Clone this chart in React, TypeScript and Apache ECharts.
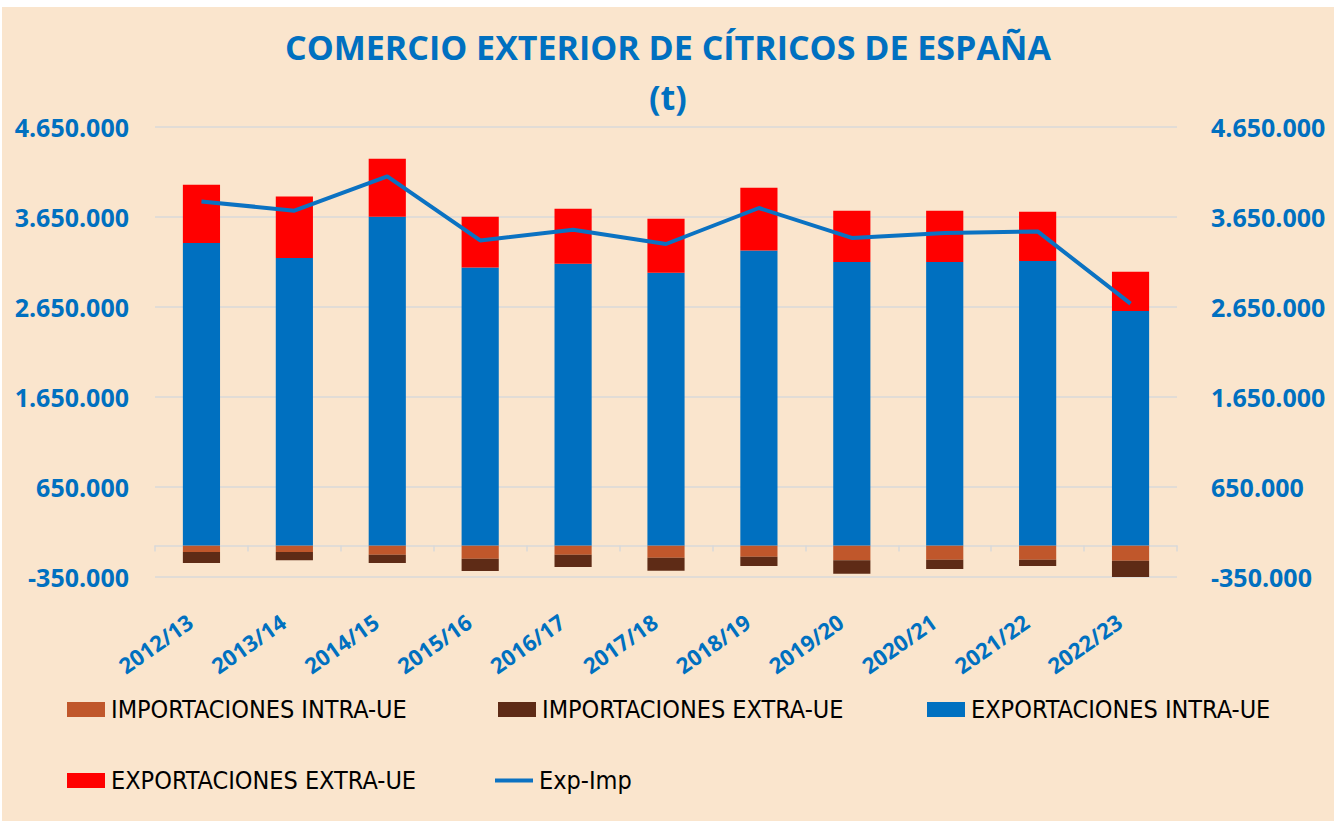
import React, { useEffect, useRef } from "react";
import * as echarts from "echarts";

const categories = ["2012/13", "2013/14", "2014/15", "2015/16", "2016/17", "2017/18", "2018/19", "2019/20", "2020/21", "2021/22", "2022/23"];
const importacionesIntraUE = [-72000, -72000, -102000, -147000, -102000, -136000, -124000, -165000, -158000, -158000, -169000];
const importacionesExtraUE = [-122000, -93000, -92000, -137000, -137000, -144000, -103000, -148000, -103000, -70000, -189000];
const exportacionesIntraUE = [3361000, 3194000, 3653000, 3090000, 3131000, 3031000, 3279000, 3150000, 3150000, 3161000, 2606000];
const exportacionesExtraUE = [648000, 684000, 644000, 563000, 611000, 600000, 697000, 570000, 570000, 548000, 437000];
const expImp = [3823000, 3720000, 4101000, 3390000, 3509000, 3350000, 3750000, 3417000, 3472000, 3490000, 2687000];

const yMin = -350000;
const yMax = 4650000;
const yInterval = 1000000;

const BLUE = "#0070C0";
const NARROW = "'Liberation Sans Narrow', 'Arial Narrow', 'DejaVu Sans Condensed', sans-serif";
const BOLD = "'Open Sans', 'Noto Sans', sans-serif";

function fmt(v: number): string {
  const s = String(Math.abs(Math.round(v))).replace(/\B(?=(\d{3})+(?!\d))/g, ".");
  return (v < 0 ? "-" : "") + s;
}

function legendAt(name: string, left: number, top: number, line = false) {
  return {
    data: [name],
    left,
    top,
    orient: "horizontal",
    selectedMode: false,
    icon: "rect",
    itemWidth: 38,
    itemHeight: line ? 4 : 15,
    itemGap: 5,
    textStyle: { fontFamily: NARROW, fontSize: 25, color: "#000000", padding: [0, 0, 0, 1] },
  };
}

export default function App() {
  const ref = useRef<HTMLDivElement>(null);
  useEffect(() => {
    if (!ref.current) return;
    const chart = echarts.init(ref.current, null, { renderer: "svg" });
    const axisLabelY = {
      color: BLUE,
      fontFamily: BOLD,
      fontWeight: "bold",
      fontSize: 25,
      formatter: (v: number) => fmt(v),
    };
    chart.setOption({
      animation: false,
      backgroundColor: "#FAE5CD",
      title: [
        {
          text: "COMERCIO EXTERIOR DE CÍTRICOS DE ESPAÑA",
          left: "center",
          top: 18,
          textStyle: { color: BLUE, fontFamily: BOLD, fontWeight: "bold", fontSize: 34 },
        },
        {
          text: "(t)",
          left: "center",
          top: 68,
          textStyle: { color: BLUE, fontFamily: BOLD, fontWeight: "bold", fontSize: 34 },
        },
      ],
      legend: [
        legendAt("IMPORTACIONES INTRA-UE", 60, 685),
        legendAt("IMPORTACIONES EXTRA-UE", 491, 685),
        legendAt("EXPORTACIONES INTRA-UE", 920, 685),
        legendAt("EXPORTACIONES EXTRA-UE", 60, 756),
        legendAt("Exp-Imp", 488, 756, true),
      ],
      grid: { left: 153, right: 157, top: 120, bottom: 244, containLabel: false },
      xAxis: [
        {
          type: "category",
          data: categories,
          position: "bottom",
          axisLine: { show: false, onZero: false },
          axisTick: { show: false },
          axisLabel: {
            rotate: 35,
            margin: 34,
            color: BLUE,
            fontFamily: BOLD,
            fontWeight: "bold",
            fontSize: 22,
            interval: 0,
            padding: [0, 14, 0, 0],
          },
        },
        {
          type: "category",
          data: categories,
          position: "bottom",
          axisLine: { show: true, onZero: true, lineStyle: { color: "#D9D9D9", width: 1.5 } },
          axisTick: { show: true, length: 6, lineStyle: { color: "#D9D9D9", width: 1.5 } },
          axisLabel: { show: false },
        },
      ],
      yAxis: [
        {
          type: "value",
          min: yMin,
          max: yMax,
          interval: yInterval,
          position: "left",
          axisLine: { show: false },
          axisTick: { show: false },
          splitLine: { show: true, lineStyle: { color: "#D9D9D9", width: 1.5 } },
          axisLabel: { ...axisLabelY, margin: 26 },
        },
        {
          type: "value",
          min: yMin,
          max: yMax,
          interval: yInterval,
          position: "right",
          axisLine: { show: false },
          axisTick: { show: false },
          splitLine: { show: false },
          axisLabel: { ...axisLabelY, margin: 34 },
        },
      ],
      series: [
        {
          name: "IMPORTACIONES INTRA-UE",
          type: "bar",
          stack: "total",
          data: importacionesIntraUE,
          barCategoryGap: "60%",
          itemStyle: { color: "#C0572B" },
        },
        {
          name: "IMPORTACIONES EXTRA-UE",
          type: "bar",
          stack: "total",
          data: importacionesExtraUE,
          barCategoryGap: "60%",
          itemStyle: { color: "#5E2B16" },
        },
        {
          name: "EXPORTACIONES INTRA-UE",
          type: "bar",
          stack: "total",
          data: exportacionesIntraUE,
          barCategoryGap: "60%",
          itemStyle: { color: BLUE },
        },
        {
          name: "EXPORTACIONES EXTRA-UE",
          type: "bar",
          stack: "total",
          data: exportacionesExtraUE,
          barCategoryGap: "60%",
          itemStyle: { color: "#FF0000" },
        },
        {
          name: "Exp-Imp",
          type: "line",
          data: expImp,
          symbol: "none",
          z: 5,
          lineStyle: { color: "#0B72C2", width: 4 },
          itemStyle: { color: "#0B72C2" },
        },
      ],
    });
    return () => chart.dispose();
  }, []);
  return (
    <div style={{ position: "fixed", left: 0, top: 0, width: 1334, height: 821, background: "#FFFFFF" }}>
      <div ref={ref} style={{ position: "absolute", left: 2, top: 7, width: 1332, height: 814 }} />
    </div>
  );
}
